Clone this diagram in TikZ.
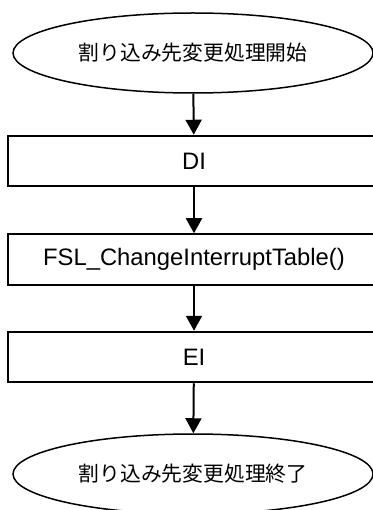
\documentclass[tikz,border=0pt]{standalone}
\usepackage{fontspec}
\setmainfont{Liberation Sans}
\newfontfamily\jpfont{Noto Sans CJK JP}
\usetikzlibrary{shapes.geometric,arrows.meta}

\begin{document}
\begin{tikzpicture}[x=1pt,y=-1pt,
    terminal/.style={ellipse,draw,line width=1.5pt,inner sep=0pt,
        minimum width=360pt,minimum height=80pt,
        font=\jpfont\fontsize{20.8}{24}\selectfont},
    process/.style={rectangle,draw,line width=2pt,inner sep=0pt,
        minimum width=372.5pt,minimum height=50.5pt,
        font=\fontsize{23.8}{27}\selectfont},
    flow/.style={line width=2pt,-{Triangle[width=16pt,length=15pt]}}]
    \useasboundingbox (0,0) rectangle (372,510);
    \node[terminal] (start) at (193,53) {割り込み先変更処理開始};
    \node[process] (di) at (194,161) {DI};
    \node[process] (fsl) at (194,259.5) {FSL\_ChangeInterruptTable()};
    \node[process] (ei) at (194,357) {EI};
    \node[terminal] (stop) at (193,474) {割り込み先変更処理終了};
    \draw[flow] (start) -- (di);
    \draw[flow] (di) -- (fsl);
    \draw[flow] (fsl) -- (ei);
    \draw[flow] (ei) -- (stop);
\end{tikzpicture}
\end{document}
